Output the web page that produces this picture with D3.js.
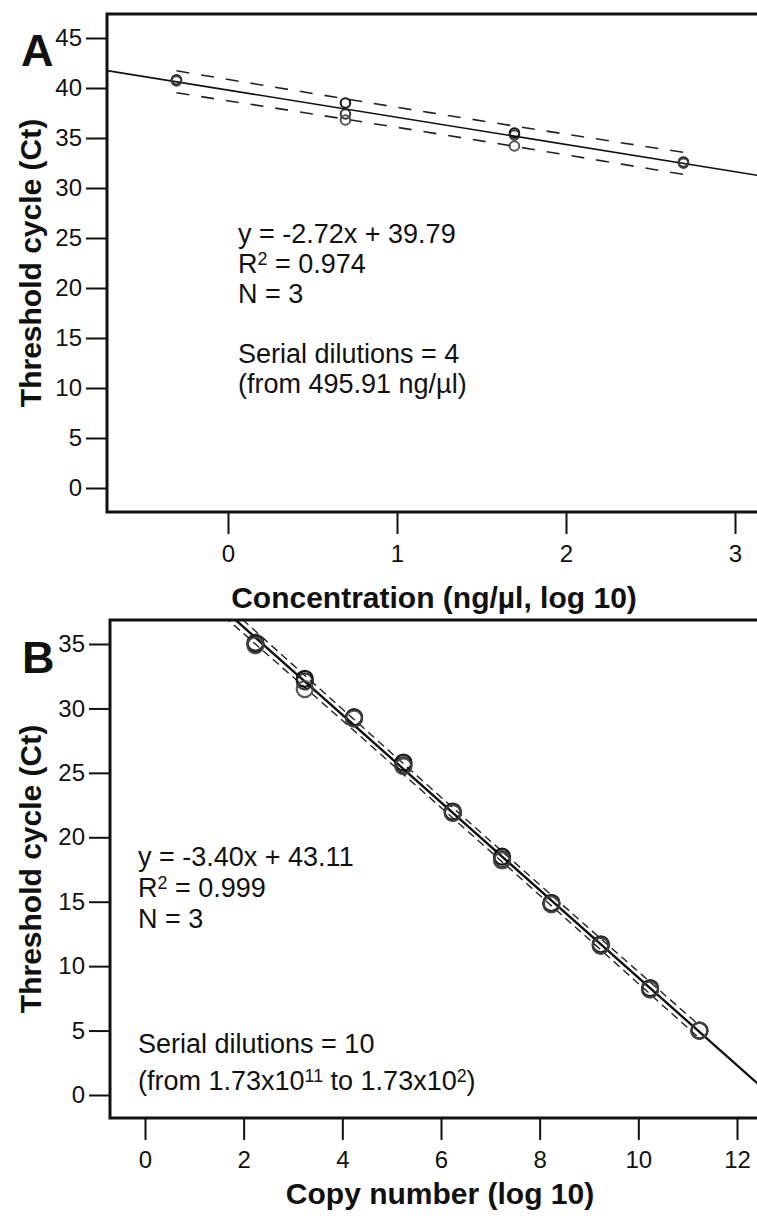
<!DOCTYPE html>
<html>
<head>
<meta charset="utf-8">
<script src="https://cdn.jsdelivr.net/npm/d3@7"></script>
<style>
  body { margin: 0; background: #fff; }
  svg text { font-family: "Liberation Sans", Arial, sans-serif; fill: #111; }
</style>
</head>
<body>
<svg width="757" height="1218"></svg>
<script>
// ---- panel A data : Ct vs log10 concentration ----
var concA = [-0.305, 0.695, 1.695, 2.695];
var ctA = [
  [40.8, 40.8, 40.7],
  [38.5, 37.4, 36.8],
  [35.5, 35.3, 34.2],
  [32.6, 32.5, 32.5]
];
var slopeA = -2.72, interceptA = 39.79;
var bandAx = [-0.305, 1.195, 2.695];
var bandAhalf = [1.1, 1.0, 1.1];
var xTicksA = [0, 1, 2, 3];
var yTicksA = [0, 5, 10, 15, 20, 25, 30, 35, 40, 45];
var notesA = ["y = -2.72x + 39.79", "R|2| = 0.974", "N = 3", "", "Serial dilutions = 4", "(from 495.91 ng/µl)"];

// ---- panel B data : Ct vs log10 copy number ----
var copyB = [2.238, 3.238, 4.238, 5.238, 6.238, 7.238, 8.238, 9.238, 10.238, 11.238];
var ctB = [
  [35.0, 35.1, 34.9],
  [32.3, 32.1, 31.5],
  [29.3, 29.3, 29.2],
  [25.8, 25.6, 25.5],
  [22.0, 21.9, 21.9],
  [18.5, 18.3, 18.2],
  [14.9, 14.9, 14.8],
  [11.7, 11.6, 11.6],
  [8.3, 8.2, 8.2],
  [5.0, 5.0, 5.0]
];
var slopeB = -3.40, interceptB = 43.11;
var bandBx = [1.2, 2.238, 6.738, 11.238];
var bandBhalf = [0.6, 0.5, 0.4, 0.5];
var xTicksB = [0, 2, 4, 6, 8, 10, 12];
var yTicksB = [0, 5, 10, 15, 20, 25, 30, 35];
var notesB1 = ["y = -3.40x + 43.11", "R|2| = 0.999", "N = 3"];
var notesB2 = ["Serial dilutions = 10", "(from 1.73x10|11| to 1.73x10|2|)"];

var repColor = ["#000", "#222", "#444"];

var svg = d3.select("svg");

function writeLine(g, str, x, y, size) {
  // parts between | | are superscripts
  var t = g.append("text").attr("x", x).attr("y", y).style("font-size", size + "px");
  var lift = size * 0.3, back = 0;
  str.split("|").forEach(function(part, i) {
    if (part === "") return;
    if (i % 2 === 1) {
      t.append("tspan").attr("dy", -lift).style("font-size", (size * 0.66) + "px").text(part);
      back = lift;
    } else {
      t.append("tspan").attr("dy", back).text(part);
      back = 0;
    }
  });
}

function drawPanel(p) {
  var g = svg.append("g");
  var x = p.x, y = p.y;

  g.append("clipPath").attr("id", p.id + "clip")
    .append("rect")
    .attr("x", p.left).attr("y", p.top)
    .attr("width", p.right - p.left).attr("height", p.bottom - p.top);

  var plot = g.append("g").attr("clip-path", "url(#" + p.id + "clip)");

  // confidence band (dashed)
  var bandLine = d3.line()
    .x(function(d) { return x(d[0]); })
    .y(function(d) { return y(d[1]); })
    .curve(d3.curveNatural);
  [1, -1].forEach(function(sgn) {
    var pts = p.bandX.map(function(bx, i) {
      return [bx, p.slope * bx + p.intercept + sgn * p.bandHalf[i]];
    });
    plot.append("path")
      .attr("d", bandLine(pts))
      .attr("fill", "none")
      .attr("stroke", "#222")
      .attr("stroke-width", p.dashWidth)
      .attr("stroke-dasharray", p.dash);
  });

  // regression line
  var x0 = x.invert(p.left), x1 = x.invert(p.right);
  plot.append("line")
    .attr("x1", x(x0)).attr("y1", y(p.slope * x0 + p.intercept))
    .attr("x2", x(x1)).attr("y2", y(p.slope * x1 + p.intercept))
    .attr("stroke", "#111")
    .attr("stroke-width", p.lineWidth);

  // replicate points
  var pts = [];
  p.xs.forEach(function(xv, i) {
    p.ys[i].forEach(function(yv, j) { pts.push({x: xv, y: yv, r: j}); });
  });
  plot.selectAll("circle.pt")
    .data(pts)
    .enter().append("circle")
    .attr("class", "pt")
    .attr("cx", function(d) { return x(d.x); })
    .attr("cy", function(d) { return y(d.y); })
    .attr("r", p.radius)
    .attr("fill", "none")
    .attr("stroke", function(d) { return repColor[d.r]; })
    .attr("stroke-opacity", 0.9)
    .attr("stroke-width", p.circleWidth);

  // frame (left, top, bottom; right edge is beyond the page)
  g.append("path")
    .attr("d", "M" + p.right + "," + p.top + "H" + p.left + "V" + p.bottom + "H" + p.right)
    .attr("fill", "none")
    .attr("stroke", "#111")
    .attr("stroke-width", 3);

  // axes
  var ya = g.append("g")
    .attr("transform", "translate(" + (p.left - 1) + ",0)")
    .call(d3.axisLeft(y).tickValues(p.yTicks).tickSize(20).tickPadding(4).tickFormat(d3.format("d")));
  var xa = g.append("g")
    .attr("transform", "translate(0," + (p.bottom + 1) + ")")
    .call(d3.axisBottom(x).tickValues(p.xTicks).tickSize(21).tickPadding(11).tickFormat(d3.format("d")));
  [ya, xa].forEach(function(a) {
    a.select(".domain").remove();
    a.selectAll(".tick line").attr("stroke", "#111").attr("stroke-width", 2);
    a.selectAll(".tick text")
      .style("font-size", "24px")
      .style("font-family", "'Liberation Sans', Arial, sans-serif")
      .attr("fill", "#111");
  });

  // titles
  g.append("text")
    .attr("x", p.xTitleX).attr("y", p.xTitleY)
    .attr("text-anchor", "middle")
    .style("font-size", "30px").style("font-weight", "bold")
    .text(p.xTitle);
  g.append("text")
    .attr("transform", "translate(" + p.yTitleX + "," + ((p.top + p.bottom) / 2) + ") rotate(-90)")
    .attr("text-anchor", "middle")
    .style("font-size", "30px").style("font-weight", "bold")
    .text("Threshold cycle (Ct)");

  g.append("text")
    .attr("x", p.letterX).attr("y", p.letterY)
    .style("font-size", "45px").style("font-weight", "bold")
    .text(p.letter);

  p.notes.forEach(function(block) {
    block.lines.forEach(function(s, i) {
      if (s) writeLine(g, s, block.x, block.y + i * block.step, 27);
    });
  });
}

drawPanel({
  id: "a", letter: "A", letterX: 21, letterY: 66,
  x: d3.scaleLinear().domain([0, 3]).range([228, 735]),
  y: d3.scaleLinear().domain([0, 45]).range([488, 38]),
  left: 107, right: 760, top: 14, bottom: 512,
  xs: concA, ys: ctA, slope: slopeA, intercept: interceptA,
  bandX: bandAx, bandHalf: bandAhalf, dash: "13,12", dashWidth: 1.6,
  lineWidth: 1.6, radius: 4.8, circleWidth: 2,
  xTicks: xTicksA, yTicks: yTicksA,
  xTitle: "Concentration (ng/µl, log 10)", xTitleX: 434, xTitleY: 608,
  yTitleX: 41,
  notes: [{lines: notesA, x: 238, y: 243, step: 30}]
});

drawPanel({
  id: "b", letter: "B", letterX: 22, letterY: 673,
  x: d3.scaleLinear().domain([0, 12]).range([145, 737]),
  y: d3.scaleLinear().domain([0, 35]).range([1095, 644]),
  left: 110, right: 760, top: 620, bottom: 1118,
  xs: copyB, ys: ctB, slope: slopeB, intercept: interceptB,
  bandX: bandBx, bandHalf: bandBhalf, dash: "8,5", dashWidth: 1.4,
  lineWidth: 2.4, radius: 8, circleWidth: 2.2,
  xTicks: xTicksB, yTicks: yTicksB,
  xTitle: "Copy number (log 10)", xTitleX: 440, xTitleY: 1204,
  yTitleX: 41,
  notes: [
    {lines: notesB1, x: 138, y: 866, step: 31},
    {lines: notesB2, x: 138, y: 1053, step: 37}
  ]
});
</script>
</body>
</html>
